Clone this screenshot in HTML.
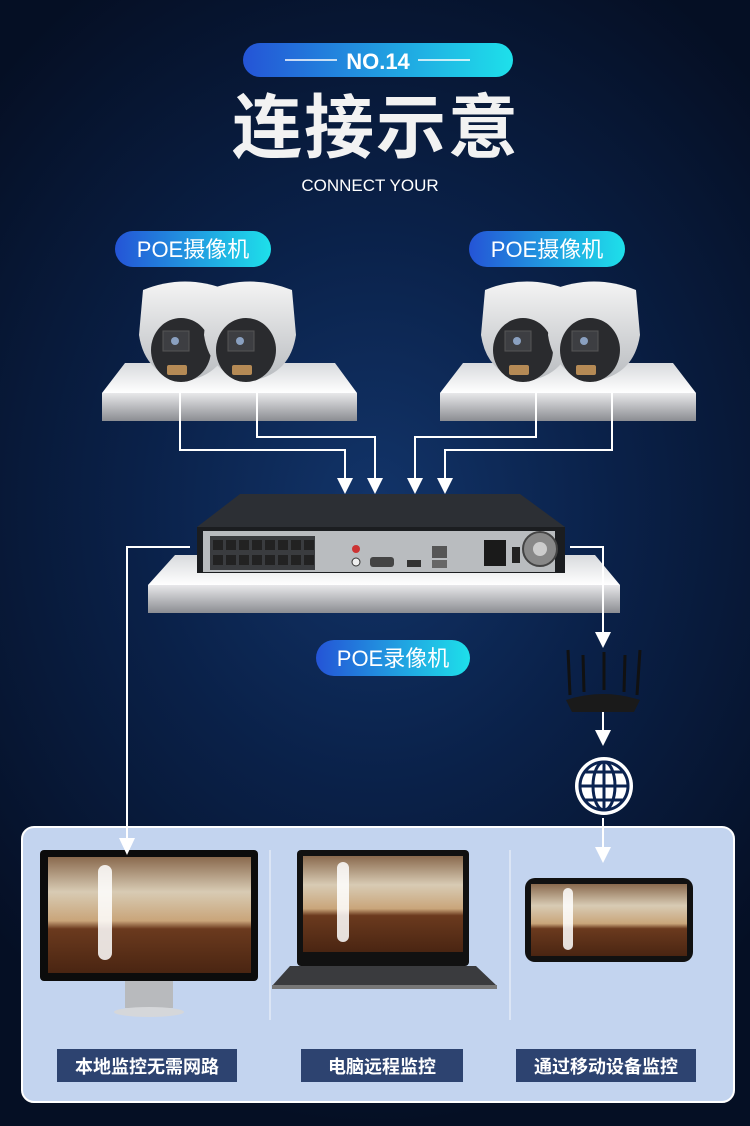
<!DOCTYPE html>
<html><head><meta charset="utf-8"><style>
*{margin:0;padding:0}
body{width:750px;height:1126px;overflow:hidden;background:radial-gradient(ellipse 70% 55% at 50% 45%,#123469 0%,#0a2149 45%,#050f24 100%);font-family:"Liberation Sans","Noto Sans CJK SC",sans-serif}
svg{position:absolute;left:0;top:0}
</style></head><body>
<svg width="750" height="1126" viewBox="0 0 750 1126" xmlns="http://www.w3.org/2000/svg">
<defs>
<linearGradient id="pill" x1="0" x2="1"><stop offset="0" stop-color="#2454d6"/><stop offset="1" stop-color="#1ee0ea"/></linearGradient>
<linearGradient id="front" x1="0" y1="0" x2="0" y2="1"><stop offset="0" stop-color="#e8e8ea"/><stop offset="1" stop-color="#8b8d92"/></linearGradient>
<linearGradient id="top" x1="0" y1="0" x2="0" y2="1"><stop offset="0" stop-color="#d8dadd"/><stop offset="1" stop-color="#ffffff"/></linearGradient>
<linearGradient id="room" x1="0" y1="0" x2="0" y2="1"><stop offset="0" stop-color="#8a6a4e"/><stop offset="0.3" stop-color="#d8cbb4"/><stop offset="0.55" stop-color="#c9a57a"/><stop offset="0.62" stop-color="#6b3a1e"/><stop offset="1" stop-color="#4a2512"/></linearGradient>
<linearGradient id="cam" x1="0" y1="0" x2="0" y2="1"><stop offset="0" stop-color="#f4f4f4"/><stop offset="1" stop-color="#b9bcc0"/></linearGradient>
<g id="camera">
<path d="M-42,-45 Q0,-62 42,-45 L46,0 Q40,40 0,46 Q-40,40 -46,0 Z" fill="url(#cam)"/>
<ellipse cx="-4" cy="15" rx="30" ry="32" fill="#2a2b2e"/>
<rect x="-22" y="-4" width="26" height="20" fill="#3d3e42" stroke="#555" stroke-width="1"/>
<circle cx="-10" cy="6" r="4" fill="#8aa0c0"/>
<rect x="-18" y="30" width="20" height="10" rx="2" fill="#b58a55"/>
</g>
</defs>

<!-- header -->
<rect x="243" y="43" width="270" height="34" rx="17" fill="url(#pill)"/>
<line x1="285" y1="60" x2="337" y2="60" stroke="#fff" stroke-width="1.5"/>
<line x1="418" y1="60" x2="470" y2="60" stroke="#fff" stroke-width="1.5"/>
<text x="378" y="69" font-size="22" font-weight="bold" fill="#fff" text-anchor="middle">NO.14</text>
<text x="376" y="152" font-size="70" font-weight="bold" fill="#f2f2f2" text-anchor="middle" letter-spacing="2">连接示意</text>
<text x="370" y="191" font-size="17" fill="#fff" text-anchor="middle">CONNECT YOUR</text>

<rect x="115" y="231" width="156" height="36" rx="18" fill="url(#pill)"/>
<text x="193" y="257" font-size="22" fill="#fff" text-anchor="middle">POE摄像机</text>
<rect x="469" y="231" width="156" height="36" rx="18" fill="url(#pill)"/>
<text x="547" y="257" font-size="22" fill="#fff" text-anchor="middle">POE摄像机</text>

<polygon points="125,363 335,363 357,393 102,393" fill="url(#top)"/>
<rect x="102" y="393" width="255" height="28" fill="url(#front)"/>
<polygon points="463,363 673,363 696,393 440,393" fill="url(#top)"/>
<rect x="440" y="393" width="256" height="28" fill="url(#front)"/>

<use href="#camera" x="185" y="335"/>
<use href="#camera" x="250" y="335"/>
<use href="#camera" x="527" y="335"/>
<use href="#camera" x="594" y="335"/>

<!-- NVR shelf -->
<polygon points="175,555 595,555 620,585 148,585" fill="url(#top)"/>
<rect x="148" y="585" width="472" height="28" fill="url(#front)"/>
<polygon points="240,494 520,494 565,527 197,527" fill="#2c2f34"/>
<rect x="197" y="527" width="368" height="46" fill="#1b1d20"/>
<rect x="203" y="531" width="352" height="41" fill="#b9bcbf"/>
<rect x="210" y="536" width="105" height="34" fill="#3a3c3f"/>
<g fill="#222">
<rect x="213" y="540" width="10" height="10"/><rect x="226" y="540" width="10" height="10"/><rect x="239" y="540" width="10" height="10"/><rect x="252" y="540" width="10" height="10"/><rect x="265" y="540" width="10" height="10"/><rect x="278" y="540" width="10" height="10"/><rect x="291" y="540" width="10" height="10"/><rect x="304" y="540" width="10" height="10"/>
<rect x="213" y="555" width="10" height="10"/><rect x="226" y="555" width="10" height="10"/><rect x="239" y="555" width="10" height="10"/><rect x="252" y="555" width="10" height="10"/><rect x="265" y="555" width="10" height="10"/><rect x="278" y="555" width="10" height="10"/><rect x="291" y="555" width="10" height="10"/><rect x="304" y="555" width="10" height="10"/>
</g>
<circle cx="356" cy="549" r="4" fill="#c33"/><circle cx="356" cy="562" r="4" fill="#eee" stroke="#333"/>
<rect x="370" y="557" width="24" height="10" rx="3" fill="#444"/>
<rect x="407" y="560" width="14" height="7" fill="#333"/>
<rect x="432" y="546" width="15" height="12" fill="#555"/><rect x="432" y="560" width="15" height="8" fill="#666"/>
<rect x="484" y="540" width="22" height="26" fill="#1a1a1a"/>
<rect x="512" y="547" width="8" height="16" fill="#222"/>
<circle cx="540" cy="549" r="17" fill="#888" stroke="#444" stroke-width="2"/>
<circle cx="540" cy="549" r="7" fill="#ccc"/>

<rect x="316" y="640" width="154" height="36" rx="18" fill="url(#pill)"/>
<text x="393" y="666" font-size="22" fill="#fff" text-anchor="middle">POE录像机</text>

<!-- router -->
<g stroke="#111" stroke-width="3"><line x1="570" y1="695" x2="568" y2="650"/><line x1="584" y1="692" x2="583" y2="655"/><line x1="604" y1="690" x2="604" y2="652"/><line x1="624" y1="692" x2="625" y2="655"/><line x1="637" y1="695" x2="640" y2="650"/></g>
<path d="M566,700 Q603,688 640,700 L634,712 L572,712 Z" fill="#1a1a1a"/>
<circle cx="604" cy="786" r="29" fill="#fff"/>
<g stroke="#0b2350" stroke-width="3" fill="none">
<circle cx="604" cy="786" r="24"/><ellipse cx="604" cy="786" rx="11" ry="24"/><line x1="604" y1="762" x2="604" y2="810"/><line x1="580" y1="786" x2="628" y2="786"/><path d="M584,772 H624 M584,800 H624"/>
</g>

<!-- bottom panel -->
<rect x="22" y="827" width="712" height="275" rx="12" fill="#c3d4ef" stroke="#fff" stroke-width="2"/>
<line x1="270" y1="850" x2="270" y2="1020" stroke="#fff" stroke-width="1" opacity="0.8"/>
<line x1="510" y1="850" x2="510" y2="1020" stroke="#fff" stroke-width="1" opacity="0.8"/>

<rect x="40" y="850" width="218" height="131" rx="4" fill="#0c0c0c"/>
<rect x="48" y="857" width="203" height="116" fill="url(#room)"/>
<rect x="125" y="981" width="48" height="27" fill="#b8babd"/>
<ellipse cx="149" cy="1012" rx="35" ry="5" fill="#d5d7da"/>
<rect x="297" y="850" width="172" height="116" rx="4" fill="#111"/>
<rect x="303" y="856" width="160" height="96" fill="url(#room)"/>
<polygon points="290,966 476,966 497,986 272,986" fill="#3a3b3e"/>
<rect x="272" y="985" width="225" height="4" fill="#777"/>
<rect x="525" y="878" width="168" height="84" rx="10" fill="#111"/>
<rect x="531" y="884" width="156" height="72" fill="url(#room)"/>
<g fill="#fff" opacity="0.85"><rect x="98" y="865" width="14" height="95" rx="7"/><rect x="337" y="862" width="12" height="80" rx="6"/><rect x="563" y="888" width="10" height="62" rx="5"/></g>

<!-- connectors -->
<g stroke="#fff" stroke-width="2" fill="none">
<polyline points="180,393 180,450 345,450 345,480"/>
<polyline points="257,393 257,437 375,437 375,480"/>
<polyline points="536,393 536,437 415,437 415,480"/>
<polyline points="612,393 612,450 445,450 445,480"/>
<polyline points="190,547 127,547 127,840"/>
<polyline points="570,547 603,547 603,634"/>
<polyline points="603,712 603,732"/>
<polyline points="603,818 603,848"/>
</g>
<g fill="#fff">
<polygon points="337,478 353,478 345,494"/>
<polygon points="367,478 383,478 375,494"/>
<polygon points="407,478 423,478 415,494"/>
<polygon points="437,478 453,478 445,494"/>
<polygon points="119,838 135,838 127,855"/>
<polygon points="595,632 611,632 603,648"/>
<polygon points="595,730 611,730 603,746"/>
<polygon points="595,847 611,847 603,863"/>
</g>

<rect x="57" y="1049" width="180" height="33" fill="#2d4370"/>
<text x="147" y="1073" font-size="18" font-weight="bold" fill="#fff" text-anchor="middle">本地监控无需网路</text>
<rect x="301" y="1049" width="162" height="33" fill="#2d4370"/>
<text x="382" y="1073" font-size="18" font-weight="bold" fill="#fff" text-anchor="middle">电脑远程监控</text>
<rect x="516" y="1049" width="180" height="33" fill="#2d4370"/>
<text x="606" y="1073" font-size="18" font-weight="bold" fill="#fff" text-anchor="middle">通过移动设备监控</text>
</svg>
</body></html>
